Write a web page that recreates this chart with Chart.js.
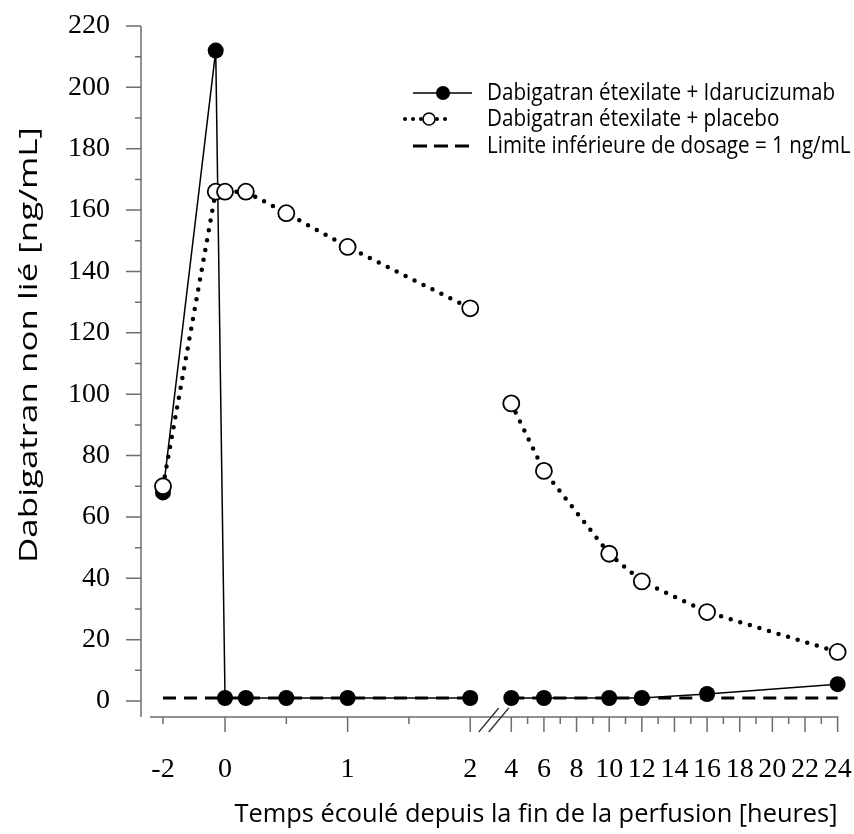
<!DOCTYPE html>
<html lang="fr">
<head>
<meta charset="utf-8">
<script src="https://cdn.jsdelivr.net/npm/chart.js@4.4.1/dist/chart.umd.min.js"></script>
<style>
  html, body { margin: 0; padding: 0; background: #fff; }
  #graphe { display: block; }
</style>
</head>
<body>
<canvas id="graphe" width="854" height="834"></canvas>
<script>
/* ===================== DONNÉES ===================== */

const temps = [-2, -0.3, 0, 0.17, 0.5, 1, 2, 4, 6, 10, 12, 16, 24];
const idarucizumab = [68, 212, 1, 1, 1, 1, 1, 1, 1, 1, 1, 2.3, 5.5];
const placebo = [70, 166, 166, 166, 159, 148, 128, 97, 75, 48, 39, 29, 16];

const tempsLimite = [-2, 2, 4, 24];
const valeursLimite = [1, 1, 1, 1];

const ticksXMajeurs = [0, 1, 2, 4, 6, 8, 10, 12, 14, 16, 18, 20, 22, 24];
const ticksXMineurs = [-2, 0.5, 1.5, 5, 7, 9, 11, 13, 15, 17, 19, 21, 23];
const etiquettesX = [-2, 0, 1, 2, 4, 6, 8, 10, 12, 14, 16, 18, 20, 22, 24];
const etiquettesY = [0, 20, 40, 60, 80, 100, 120, 140, 160, 180, 200, 220];
const ticksYMineurs = [10, 30, 50, 70, 90, 110, 130, 150, 170, 190, 210];

const titreX = "Temps écoulé depuis la fin de la perfusion [heures]";
const titreY = "Dabigatran non lié [ng/mL]";
const legendes = [
  "Dabigatran étexilate + Idarucizumab",
  "Dabigatran étexilate + placebo",
  "Limite inférieure de dosage = 1 ng/mL"
];

/* ===================== AXE X COUPÉ ===================== */
// -2..0 comprimé, 0..2 normal, coupure, puis 4..24 comprimé

function pos(t) {
  if (t <= 0) return t * 0.253;
  if (t <= 2) return t;
  return 2.335 + (t - 4) * 0.1331;
}

function serie(ts, vals) {
  const pts = [];
  ts.forEach((t, i) => {
    if (i > 0 && ts[i - 1] <= 2 && t >= 4) pts.push({ x: pos(3), y: null });
    pts.push({ x: pos(t), y: vals[i] });
  });
  return pts;
}

/* ===================== TEXTE ===================== */

function texteAjuste(ctx, txt, x, y, font, largeur, align) {
  ctx.save();
  ctx.font = font;
  const w = ctx.measureText(txt).width;
  const sx = largeur ? largeur / w : 1;
  ctx.translate(x, y);
  ctx.scale(sx, 1);
  ctx.textAlign = align || "left";
  ctx.textBaseline = "middle";
  ctx.fillText(txt, 0, 0);
  ctx.restore();
}

/* ===================== AXES + LÉGENDE ===================== */

const axesPlugin = {
  id: "axes",
  afterDraw(chart) {
    const ctx = chart.ctx;
    const xs = chart.scales.x, ys = chart.scales.y;
    const area = chart.chartArea;
    const gris = "#6e6e6e";
    const axeY = area.left - 9;
    const basY = ys.getPixelForValue(-5.2);

    ctx.save();
    ctx.strokeStyle = gris;
    ctx.lineWidth = 1.5;

    // axe Y
    ctx.beginPath();
    ctx.moveTo(axeY, ys.getPixelForValue(220));
    ctx.lineTo(axeY, basY);
    etiquettesY.forEach(v => {
      const py = ys.getPixelForValue(v);
      ctx.moveTo(axeY - 15, py);
      ctx.lineTo(axeY, py);
    });
    ticksYMineurs.forEach(v => {
      const py = ys.getPixelForValue(v);
      ctx.moveTo(axeY - 6, py);
      ctx.lineTo(axeY, py);
    });
    ctx.stroke();

    // axe X
    ctx.beginPath();
    ctx.moveTo(area.left, basY);
    ctx.lineTo(xs.getPixelForValue(pos(24)) + 1, basY);
    ticksXMajeurs.forEach(t => {
      const px = xs.getPixelForValue(pos(t));
      ctx.moveTo(px, basY);
      ctx.lineTo(px, basY + 15);
    });
    ticksXMineurs.forEach(t => {
      const px = xs.getPixelForValue(pos(t));
      ctx.moveTo(px, basY);
      ctx.lineTo(px, basY + 7);
    });
    ctx.stroke();

    // coupure //
    const mid = (xs.getPixelForValue(pos(2)) + xs.getPixelForValue(pos(4))) / 2;
    ctx.strokeStyle = "#333";
    ctx.lineWidth = 1.3;
    ctx.beginPath();
    ctx.moveTo(mid - 12, basY + 15); ctx.lineTo(mid + 8, basY - 9);
    ctx.moveTo(mid - 2, basY + 15); ctx.lineTo(mid + 18, basY - 9);
    ctx.stroke();

    // étiquettes
    ctx.fillStyle = "#000";
    ctx.font = "28px 'Liberation Serif'";
    ctx.textBaseline = "middle";
    ctx.textAlign = "right";
    etiquettesY.forEach(v => ctx.fillText(String(v), axeY - 31, ys.getPixelForValue(v)));
    ctx.textAlign = "center";
    etiquettesX.forEach(t => ctx.fillText(String(t), xs.getPixelForValue(pos(t)), basY + 53));

    // titres
    texteAjuste(ctx, titreX, 536, 815, "26px 'Open Sans'", 603, "center");
    ctx.save();
    ctx.translate(30, 345);
    ctx.rotate(-Math.PI / 2);
    texteAjuste(ctx, titreY, 0, 0, "26px 'Open Sans'", 436, "center");
    ctx.restore();

    // légende
    const lx = 413, rx = 472, tx = 487;
    const ly = [93, 119, 146];
    ctx.strokeStyle = "#000";
    ctx.fillStyle = "#000";

    ctx.lineWidth = 1.5;
    ctx.beginPath(); ctx.moveTo(lx, ly[0]); ctx.lineTo(rx, ly[0]); ctx.stroke();
    ctx.beginPath(); ctx.arc(443, ly[0], 7, 0, Math.PI * 2); ctx.fill();

    ctx.lineWidth = 4;
    ctx.lineCap = "round";
    ctx.setLineDash([0, 8]);
    ctx.beginPath(); ctx.moveTo(405, ly[1]); ctx.lineTo(453, ly[1]); ctx.stroke();
    ctx.setLineDash([]);
    ctx.lineCap = "butt";
    ctx.fillStyle = "#fff";
    ctx.lineWidth = 1.6;
    ctx.beginPath(); ctx.arc(429, ly[1], 6, 0, Math.PI * 2); ctx.fill(); ctx.stroke();

    ctx.lineWidth = 3;
    ctx.setLineDash([14, 7]);
    ctx.beginPath(); ctx.moveTo(lx, ly[2]); ctx.lineTo(rx, ly[2]); ctx.stroke();
    ctx.setLineDash([]);

    ctx.fillStyle = "#000";
    ctx.font = "23px 'Open Sans'";
    const echelle = 348 / ctx.measureText(legendes[0]).width;
    legendes.forEach((txt, i) => {
      const w = ctx.measureText(txt).width * echelle;
      texteAjuste(ctx, txt, tx, ly[i], "23px 'Open Sans'", w, "left");
    });
    ctx.restore();
  }
};

/* ===================== GRAPHIQUE ===================== */

new Chart(document.getElementById("graphe"), {
  type: "line",
  data: {
    datasets: [
      {
        label: legendes[1],
        data: serie(temps, placebo),
        borderColor: "#000",
        borderWidth: 4.5,
        borderDash: [0, 10],
        borderCapStyle: "round",
        pointRadius: 8,
        pointBackgroundColor: "#fff",
        pointBorderColor: "#000",
        pointBorderWidth: 1.8,
        tension: 0,
        clip: false
      },
      {
        label: legendes[0],
        data: serie(temps, idarucizumab),
        borderColor: "#000",
        borderWidth: 1.5,
        pointRadius: 8,
        pointBackgroundColor: "#000",
        pointBorderWidth: 0,
        tension: 0,
        clip: false
      },
      {
        label: legendes[2],
        data: serie(tempsLimite, valeursLimite),
        borderColor: "#000",
        borderWidth: 3,
        borderDash: [13, 8],
        pointRadius: 0,
        tension: 0,
        clip: false
      }
    ]
  },
  options: {
    responsive: false,
    animation: false,
    layout: { padding: { left: 150, right: 16, top: 26, bottom: 117 } },
    plugins: { legend: { display: false }, tooltip: { enabled: false } },
    scales: {
      x: { type: "linear", min: -0.612, max: 5.0, display: false },
      y: { min: -5.2, max: 220, display: false }
    }
  },
  plugins: [axesPlugin]
});
</script>
</body>
</html>
